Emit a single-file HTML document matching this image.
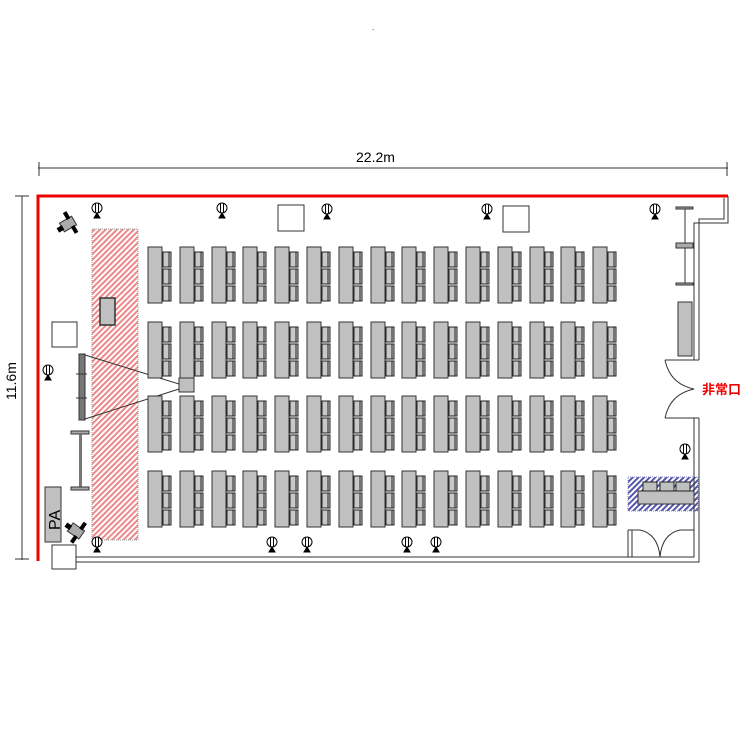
<!DOCTYPE html>
<html><head><meta charset="utf-8"><style>
html,body{margin:0;padding:0;background:#fff;}
svg{display:block;}
text{font-family:"Liberation Sans","Noto Sans CJK JP",sans-serif;}
</style></head><body>
<svg width="750" height="750" viewBox="0 0 750 750" xmlns="http://www.w3.org/2000/svg">
<defs>
<pattern id="rh" width="4" height="4" patternUnits="userSpaceOnUse" patternTransform="rotate(45)">
<rect width="4" height="4" fill="#fff"/><rect width="2" height="4" fill="#e88"/></pattern>
<pattern id="bh" width="4" height="4" patternUnits="userSpaceOnUse" patternTransform="rotate(45)">
<rect width="4" height="4" fill="#fff"/><rect width="2" height="4" fill="#55a"/></pattern>
<g id="d">
<rect x="0" y="0" width="14" height="56" fill="#c0c0c0" stroke="#333" stroke-width="1"/>
<g fill="#c8c8c8" stroke="#222" stroke-width="1">
<rect x="15" y="5" width="8" height="15"/><rect x="15" y="22" width="8" height="15"/><rect x="15" y="39" width="8" height="15"/>
<line x1="21" y1="5" x2="21" y2="20"/><line x1="21" y1="22" x2="21" y2="37"/><line x1="21" y1="39" x2="21" y2="54"/>
</g></g>
<g id="m" stroke="#000" stroke-width="1" fill="#fff">
<circle cx="0" cy="-4" r="5"/><line x1="-1.5" y1="-9" x2="-1.5" y2="1"/><line x1="1.5" y1="-9" x2="1.5" y2="1"/>
<polygon points="-3,6 3,6 0,1" fill="#000"/></g>
<g id="row">
<use href="#d" x="148"/><use href="#d" x="180"/><use href="#d" x="212"/><use href="#d" x="243"/><use href="#d" x="275"/>
<use href="#d" x="307"/><use href="#d" x="339"/><use href="#d" x="371"/><use href="#d" x="402"/><use href="#d" x="434"/>
<use href="#d" x="466"/><use href="#d" x="498"/><use href="#d" x="530"/><use href="#d" x="561"/><use href="#d" x="593"/>
</g>
</defs>
<text x="372" y="30" font-size="8">.</text>
<line x1="38" y1="168" x2="728" y2="168" stroke="#333"/>
<line x1="39" y1="162" x2="39" y2="176" stroke="#333"/>
<line x1="727" y1="162" x2="727" y2="176" stroke="#333"/>
<text x="356" y="162" font-size="14">22.2m</text>
<line x1="22" y1="196" x2="22" y2="560" stroke="#333"/>
<line x1="15" y1="196" x2="29" y2="196" stroke="#333"/>
<line x1="15" y1="559" x2="29" y2="559" stroke="#333"/>
<text x="0" y="0" font-size="14" transform="translate(16,400) rotate(-90)">11.6m</text>
<rect x="92" y="229" width="46" height="311" fill="url(#rh)" stroke="#999" stroke-dasharray="1,1"/>
<rect x="628" y="477" width="70" height="34" fill="url(#bh)" stroke="#88c" stroke-dasharray="1,1"/>
<g fill="none" stroke="#333" stroke-width="1">
<polyline points="728,196 728,223 694,223 694,360"/>
<polyline points="724,198 724,219 699,219 699,360"/>
<polyline points="694,418 694,557 75,557"/>
<polyline points="699,418 699,562 75,562"/>
<line x1="632" y1="530" x2="632" y2="557"/><line x1="628" y1="530" x2="628" y2="557"/>
<line x1="628" y1="530" x2="640" y2="530"/>
<line x1="680" y1="530" x2="694" y2="530"/>
<path d="M640,530 Q658,534 660,557"/><path d="M680,530 Q662,534 660,557"/>
<line x1="665" y1="360" x2="699" y2="360"/><line x1="665" y1="418" x2="699" y2="418"/>
<path d="M665,360 Q670,384 694,389"/>
<path d="M665,418 Q670,394 694,389"/>
</g>
<polyline points="38,561 38,196 728,196" fill="none" stroke="#e00" stroke-width="3"/>
<rect x="52" y="545" width="24" height="24" fill="#fff" stroke="#333"/>
<rect x="45" y="487" width="16" height="55" fill="#c0c0c0" stroke="#333"/>
<text x="0" y="0" font-size="16" transform="translate(60,530) rotate(-90)">PA</text>
<rect x="278" y="205" width="26" height="26" fill="#fff" stroke="#333"/>
<rect x="503" y="206" width="26" height="26" fill="#fff" stroke="#333"/>
<rect x="52" y="322" width="25" height="25" fill="#fff" stroke="#333"/>
<rect x="100" y="298" width="15" height="27" fill="#c0c0c0" stroke="#333" stroke-width="1.5"/>
<rect x="79" y="354" width="6" height="66" fill="#777" stroke="#333"/>
<line x1="76" y1="374" x2="87" y2="374" stroke="#333"/><line x1="76" y1="398" x2="87" y2="398" stroke="#333"/>
<line x1="85" y1="355" x2="179" y2="384" stroke="#333"/>
<line x1="85" y1="419" x2="179" y2="389" stroke="#333"/>
<rect x="179" y="378" width="15" height="14" fill="#c0c0c0" stroke="#333"/>
<rect x="71" y="431" width="18" height="3" fill="#aaa" stroke="#333"/>
<rect x="79" y="434" width="3" height="54" fill="#777"/>
<rect x="71" y="487" width="18" height="3" fill="#aaa" stroke="#333"/>
<rect x="678" y="302" width="14" height="54" fill="#c0c0c0" stroke="#333"/>
<line x1="685" y1="207" x2="685" y2="285" stroke="#333"/>
<rect x="676" y="207" width="17" height="2" fill="#aaa" stroke="#333"/>
<rect x="676" y="243" width="17" height="5" fill="#aaa" stroke="#333"/>
<rect x="676" y="283" width="17" height="2" fill="#aaa" stroke="#333"/>
<text x="702" y="394" font-size="13" fill="#e00" font-weight="bold">非常口</text>
<rect x="638" y="491" width="56" height="13" fill="#c0c0c0" stroke="#333"/>
<g fill="#c0c0c0" stroke="#222"><rect x="643" y="482" width="14" height="9"/><rect x="660" y="482" width="14" height="9"/><rect x="676" y="482" width="14" height="9"/></g>
<g transform="translate(68,224) rotate(-30)" fill="#000"><rect x="-7" y="-5" width="14" height="10" fill="#aaa" stroke="#333"/><rect x="-12" y="-2" width="6" height="5"/><rect x="1" y="-12" width="4" height="8"/><rect x="1" y="4" width="4" height="8"/></g>
<g transform="translate(76,531) rotate(35)" fill="#000"><rect x="-7" y="-5" width="14" height="10" fill="#aaa" stroke="#333"/><rect x="-12" y="-2" width="6" height="5"/><rect x="1" y="-12" width="4" height="8"/><rect x="1" y="4" width="4" height="8"/></g>
<use href="#m" x="97" y="212"/><use href="#m" x="222" y="212"/><use href="#m" x="327" y="213"/>
<use href="#m" x="487" y="213"/><use href="#m" x="655" y="213"/><use href="#m" x="48" y="374"/>
<use href="#m" x="97" y="546"/><use href="#m" x="272" y="546"/><use href="#m" x="307" y="546"/>
<use href="#m" x="407" y="546"/><use href="#m" x="436" y="546"/><use href="#m" x="685" y="453"/>
<use href="#row" y="247"/>
<use href="#row" y="322"/>
<use href="#row" y="396"/>
<use href="#row" y="471"/>
</svg>
</body></html>
